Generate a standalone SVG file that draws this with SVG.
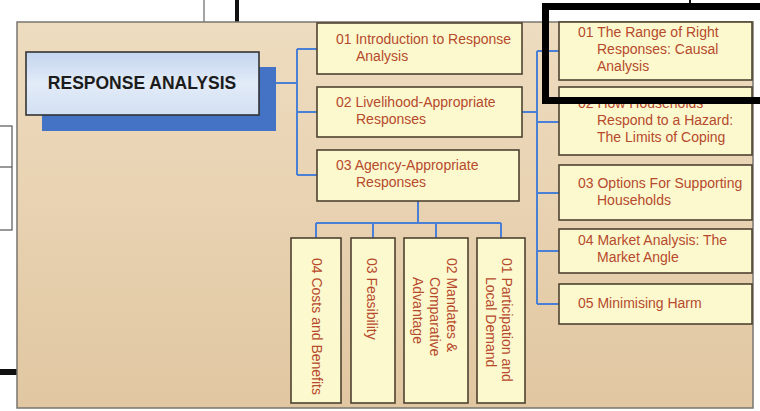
<svg xmlns="http://www.w3.org/2000/svg" width="760" height="411" viewBox="0 0 760 411">
<defs>
<linearGradient id="panelG" x1="0" y1="0" x2="0" y2="1">
<stop offset="0" stop-color="#eedcc0"/>
<stop offset="1" stop-color="#e1c7a1"/>
</linearGradient>
<linearGradient id="mainG" x1="0" y1="0" x2="0" y2="1">
<stop offset="0" stop-color="#c4d5ee"/>
<stop offset="0.5" stop-color="#e2ebf8"/>
<stop offset="1" stop-color="#d3e0f3"/>
</linearGradient>
<style>
.box{fill:#fcf9cf;stroke:#4e4330;stroke-width:1.6}
.t{font-family:"Liberation Sans",Arial,sans-serif;font-size:14px;fill:#b64a2c}
.c{fill:none;stroke:#4a7fd6;stroke-width:2}
</style>
</defs>
<rect width="760" height="411" fill="#ffffff"/>
<!-- background fragments -->
<line x1="204" y1="0" x2="204" y2="22" stroke="#666" stroke-width="1.2"/>
<line x1="237" y1="0" x2="237" y2="22" stroke="#111" stroke-width="4"/>
<rect x="-1" y="126" width="13" height="104" fill="#fff" stroke="#555" stroke-width="1.2"/>
<line x1="0" y1="167" x2="12" y2="167" stroke="#555" stroke-width="1.2"/>
<rect x="0" y="369" width="18" height="6" fill="#111"/>
<!-- panel -->
<rect x="17" y="22" width="736" height="386" fill="url(#panelG)" stroke="#7a7670" stroke-width="1.5"/>
<g id="connectors">
<path class="c" d="M276 83H297M297 49V175M297 49H317M297 112H317M297 175H317"/>
<path class="c" d="M522 112H537M537 51V304M537 51H559M537 122H559M537 193H559M537 251H559M537 304H559"/>
<path class="c" d="M418 201V223M316 223H501M316 223V238M373 223V238M436 223V238M501 223V238"/>
</g>
<g id="response-analysis">
<rect x="42" y="67" width="234" height="64" fill="#4472c4"/>
<rect x="26" y="52" width="233" height="63" fill="url(#mainG)" stroke="#333" stroke-width="1.6"/>
<text x="142" y="89" text-anchor="middle" font-family="Liberation Sans,Arial,sans-serif" font-size="17.5" font-weight="bold" fill="#1c1c1c">RESPONSE ANALYSIS</text>
</g>
<g id="n-intro">
<rect class="box" x="317" y="23" width="205" height="51"/>
<text class="t" x="336" y="44">01 Introduction to Response<tspan x="356" y="61">Analysis</tspan></text>
</g>
<g id="n-livelihood">
<rect class="box" x="317" y="87" width="205" height="50"/>
<text class="t" x="336" y="107">02 Livelihood-Appropriate<tspan x="356" y="124">Responses</tspan></text>
</g>
<g id="n-agency">
<rect class="box" x="317" y="150" width="202" height="51"/>
<text class="t" x="336" y="170">03 Agency-Appropriate<tspan x="356" y="187">Responses</tspan></text>
</g>
<g id="n-costs">
<rect class="box" x="291" y="238" width="50" height="165"/>
<text class="t" transform="translate(317,258) rotate(90)" x="0" y="5">04 Costs and Benefits</text>
</g>
<g id="n-feasibility">
<rect class="box" x="351" y="238" width="44" height="165"/>
<text class="t" transform="translate(372,258) rotate(90)" x="0" y="5">03 Feasibility</text>
</g>
<g id="n-mandates">
<rect class="box" x="404" y="238" width="64" height="165"/>
<text class="t" transform="translate(452,258) rotate(90)" x="0" y="5">02 Mandates &amp;<tspan x="19" y="22">Comparative</tspan><tspan x="19" y="39">Advantage</tspan></text>
</g>
<g id="n-participation">
<rect class="box" x="477" y="238" width="48" height="165"/>
<text class="t" transform="translate(507,258) rotate(90)" x="0" y="5">01 Participation and<tspan x="19" y="21">Local Demand</tspan></text>
</g>
<g id="n-range">
<rect class="box" x="559" y="22" width="193" height="58"/>
<text class="t" x="578" y="37">01 The Range of Right<tspan x="597" y="54">Responses: Causal</tspan><tspan x="597" y="71">Analysis</tspan></text>
</g>
<g id="n-households">
<rect class="box" x="559" y="87" width="193" height="68"/>
<text class="t" x="578" y="108">02 How Households<tspan x="597" y="125">Respond to a Hazard:</tspan><tspan x="597" y="142">The Limits of Coping</tspan></text>
</g>
<g id="n-options">
<rect class="box" x="559" y="165" width="193" height="55"/>
<text class="t" x="578" y="188">03 Options For Supporting<tspan x="597" y="205">Households</tspan></text>
</g>
<g id="n-market">
<rect class="box" x="559" y="229" width="193" height="44"/>
<text class="t" x="578" y="245">04 Market Analysis: The<tspan x="597" y="262">Market Angle</tspan></text>
</g>
<g id="n-harm">
<rect class="box" x="559" y="284" width="193" height="40"/>
<text class="t" x="578" y="308">05 Minimising Harm</text>
</g>
<!-- highlight frame -->
<line x1="690" y1="0" x2="690" y2="4" stroke="#111" stroke-width="2"/>
<rect x="545.5" y="6.5" width="300" height="94" fill="none" stroke="#000" stroke-width="7"/>
</svg>
